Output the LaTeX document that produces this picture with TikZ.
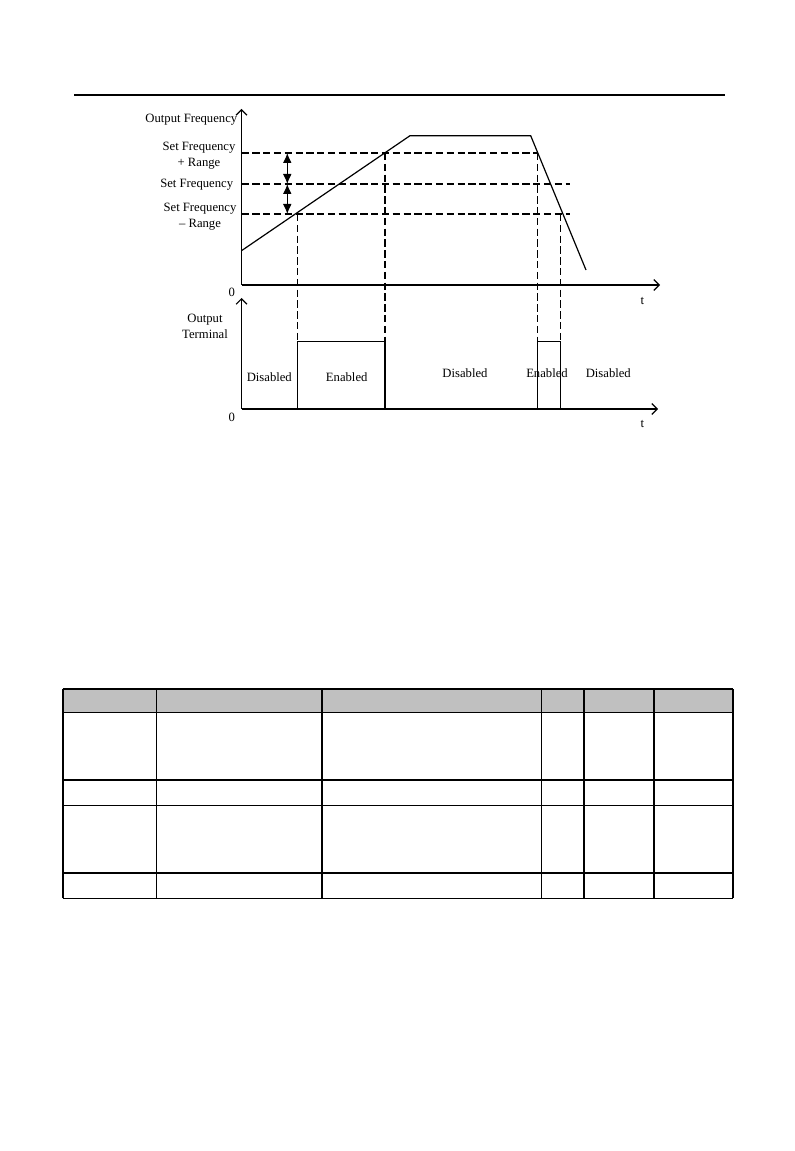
\documentclass[tikz,border=0pt]{standalone}
\usepackage{fontspec}
\setmainfont{Liberation Serif}
\usetikzlibrary{arrows.meta,positioning,calc}
\definecolor{headgray}{RGB}{192,192,192}

\begin{document}
\begin{tikzpicture}[x=0.75pt,y=-0.75pt,>=Stealth,
  lbl/.style={font=\fontsize{9.5}{12}\selectfont,inner sep=0pt,align=center},
  guide/.style={line width=0.8pt,dash pattern=on 5.5pt off 2.6pt},
  axisline/.style={line width=0.9pt,-{Straight Barb[length=4pt,width=8pt]}},
  curve/.style={line width=0.9pt},
  gap/.style={line width=0.8pt,{Latex[length=7.5pt,width=6.5pt]}-{Latex[length=7.5pt,width=6.5pt]}},
  thickrule/.style={line width=1.3pt},
  thinrule/.style={line width=0.8pt}]
  \useasboundingbox (0,0) rectangle (794,1151);
  % page rule
  \draw[line width=1pt] (74,95) -- (725,95);

  % upper graph: frequency
  \coordinate (o1) at (241.5,285);
  \coordinate (y1) at (241.5,109);
  \coordinate (t1) at (660,285);
  \coordinate (r0) at (241.5,250.7);
  \coordinate (r1) at (410,135.7);
  \coordinate (r2) at (530.7,135.7);
  \coordinate (r3) at (586,270);
  \coordinate (hi0) at (241.5,153);
  \coordinate (mid0) at (241.5,184);
  \coordinate (lo0) at (241.5,214);
  \coordinate (midE) at (570,184);
  \coordinate (loE) at (570,214);
  \coordinate (a) at (297.3,214);
  \coordinate (b) at (385,153);
  \coordinate (c) at (537.7,153);
  \coordinate (d) at (560.7,214);
  \draw[axisline] (o1) -- (y1);
  \draw[axisline] (o1) -- (t1);
  \draw[curve] (r0) -- (r1) -- (r2) -- (r3);
  \draw[guide] (hi0) -- (c);
  \draw[guide] (mid0) -- (midE);
  \draw[guide] (lo0) -- (loE);
  % range markers
  \coordinate (g1) at (287.3,153);
  \coordinate (g2) at (287.3,184);
  \coordinate (g3) at (287.3,214);
  \draw[gap] (g1) -- (g2);
  \draw[gap] (g2) -- (g3);

  % lower graph: output terminal
  \coordinate (o2) at (241.5,409);
  \coordinate (y2) at (241.5,298);
  \coordinate (t2) at (658,409);
  \coordinate (pa) at (297.3,341.7);
  \coordinate (pb) at (385,341.7);
  \coordinate (pc) at (537.7,341.7);
  \coordinate (pd) at (560.7,341.7);
  \coordinate (qa) at (297.3,409);
  \coordinate (qb) at (385,409);
  \coordinate (qc) at (537.7,409);
  \coordinate (qd) at (560.7,409);
  \draw[axisline] (o2) -- (y2);
  \draw[axisline] (o2) -- (t2);
  \draw[curve] (qa) -- (pa) -- (pb) -- (qb);
  \draw[curve] (qc) -- (pc) -- (pd) -- (qd);
  % guides down to the pulses
  \foreach \u/\v in {a/pa,b/pb,c/pc,d/pd} \draw[guide] (\u) -- (\v);

  % labels
  \node[lbl,anchor=east] (fout) at (237.5,120) {Output Frequency};
  \node[lbl] (fhi) at (199,156) {Set Frequency\\+ Range};
  \node[lbl] (fset) at (196.7,185) {Set Frequency};
  \node[lbl] (flo) at (200,216.5) {Set Frequency\\– Range};
  \node[lbl] (zero1) at (231.7,292) {0};
  \node[lbl] (time1) at (642.3,301) {t};
  \node[lbl] (term) at (205,326.5) {Output\\Terminal};
  \node[lbl] (zero2) at (231.7,417) {0};
  \node[lbl] (time2) at (642.3,423.7) {t};
  \node[lbl] (off1) at (269.3,377) {Disabled};
  \node[lbl] (on1) at (346.7,377) {Enabled};
  \node[lbl] (off2) at (465,373) {Disabled};
  \node[lbl] (on2) at (547,373) {Enabled};
  \node[lbl] (off3) at (608.3,373) {Disabled};

  % parameter table (empty grid)
  \fill[headgray] (62.7,689) rectangle (733,712.3);
  \draw[thinrule] (62.7,712.3) -- (733,712.3);
  \draw[thinrule] (62.7,805.3) -- (733,805.3);
  \draw[thinrule] (62.7,898.3) -- (733,898.3);
  \foreach \yy in {689,779.7,872.7} \draw[thickrule] (62.7,\yy) -- (733,\yy);
  \foreach \xx in {156.3,541.3} \draw[thinrule] (\xx,689) -- (\xx,898.3);
  \foreach \xx in {62.7,322,584,654.3,733} \draw[thickrule] (\xx,689) -- (\xx,898.3);
\end{tikzpicture}
\end{document}
